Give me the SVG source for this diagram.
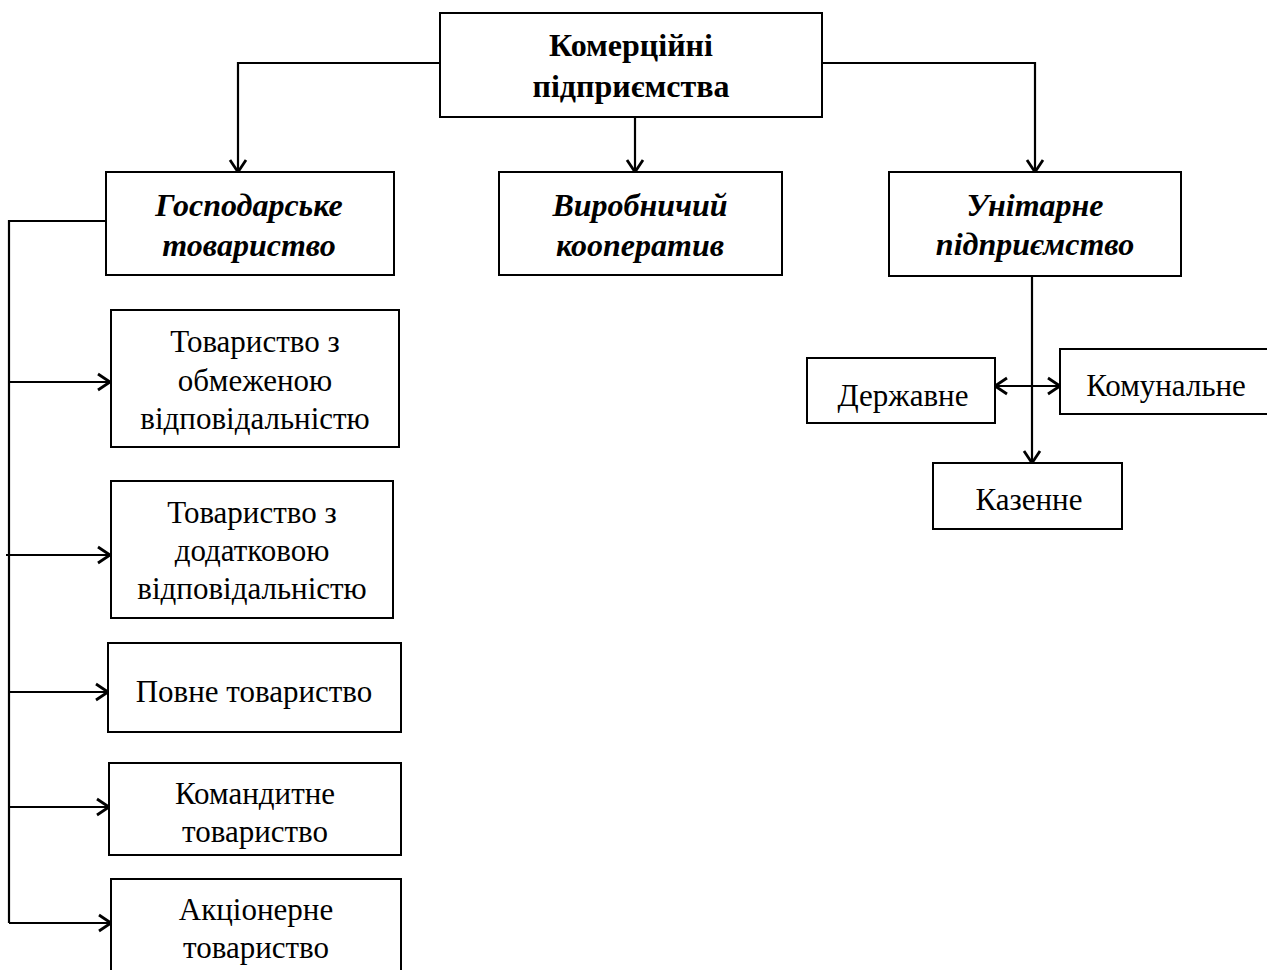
<svg xmlns="http://www.w3.org/2000/svg" width="1267" height="970" viewBox="0 0 1267 970">
<style>
.box{fill:#fff;stroke:#000;stroke-width:2}
.ln{fill:none;stroke:#000;stroke-width:2.2}
.t{font-family:"Liberation Serif","Times New Roman",serif;font-size:31px;fill:#000;text-anchor:middle}
.b{font-weight:bold;font-size:32px}
.bi{font-weight:bold;font-style:italic;font-size:32px}
</style>
<defs>
<marker id="ah" markerUnits="userSpaceOnUse" markerWidth="20" markerHeight="20" refX="13" refY="10" orient="auto-start-reverse" viewBox="0 0 20 20">
<path d="M1,2 L13,10 L1,18" fill="none" stroke="#000" stroke-width="2.8"/>
</marker>
</defs>
<rect width="1267" height="970" fill="#fff"/>
<g id="connectors">
<path class="ln" d="M440,63 H238 V172" marker-end="url(#ah)"/>
<path class="ln" d="M822,63 H1035 V172" marker-end="url(#ah)"/>
<path class="ln" d="M635,117 V172" marker-end="url(#ah)"/>
<path class="ln" d="M1032,276 V463" marker-end="url(#ah)"/>
<path class="ln" d="M995,386 H1060" marker-start="url(#ah)" marker-end="url(#ah)"/>
<path class="ln" d="M106,221 H9 V923"/>
<path class="ln" d="M9,382 H110" marker-end="url(#ah)"/>
<path class="ln" d="M6,555 H110" marker-end="url(#ah)"/>
<path class="ln" d="M9,692 H108" marker-end="url(#ah)"/>
<path class="ln" d="M9,807 H109" marker-end="url(#ah)"/>
<path class="ln" d="M9,923 H111" marker-end="url(#ah)"/>
</g>
<g id="n-komertsiini">
<rect class="box" x="440" y="13" width="382" height="104"/>
<text class="t b" x="631" y="56">Комерційні</text>
<text class="t b" x="631" y="97">підприємства</text>
</g>
<g id="n-hospodarske">
<rect class="box" x="106" y="172" width="288" height="103"/>
<text class="t bi" x="249" y="216">Господарське</text>
<text class="t bi" x="249" y="256">товариство</text>
</g>
<g id="n-vyrobnychyi">
<rect class="box" x="499" y="172" width="283" height="103"/>
<text class="t bi" x="640" y="216">Виробничий</text>
<text class="t bi" x="640" y="256">кооператив</text>
</g>
<g id="n-unitarne">
<rect class="box" x="889" y="172" width="292" height="104"/>
<text class="t bi" x="1035" y="216">Унітарне</text>
<text class="t bi" x="1035" y="255">підприємство</text>
</g>
<g id="n-derzhavne">
<rect class="box" x="807" y="358" width="188" height="65"/>
<text class="t" x="903" y="406">Державне</text>
</g>
<g id="n-komunalne">
<rect class="box" x="1060" y="349" width="212" height="65"/>
<text class="t" x="1166" y="396">Комунальне</text>
</g>
<g id="n-kazenne">
<rect class="box" x="933" y="463" width="189" height="66"/>
<text class="t" x="1029" y="510">Казенне</text>
</g>
<g id="n-tov">
<rect class="box" x="111" y="310" width="288" height="137"/>
<text class="t" x="255" y="352">Товариство з</text>
<text class="t" x="255" y="391">обмеженою</text>
<text class="t" x="255" y="429">відповідальністю</text>
</g>
<g id="n-tdv">
<rect class="box" x="111" y="481" width="282" height="137"/>
<text class="t" x="252" y="523">Товариство з</text>
<text class="t" x="252" y="561">додатковою</text>
<text class="t" x="252" y="599">відповідальністю</text>
</g>
<g id="n-povne">
<rect class="box" x="108" y="643" width="293" height="89"/>
<text class="t" x="254" y="702">Повне товариство</text>
</g>
<g id="n-komandytne">
<rect class="box" x="109" y="763" width="292" height="92"/>
<text class="t" x="255" y="804">Командитне</text>
<text class="t" x="255" y="842">товариство</text>
</g>
<g id="n-aktsionerne">
<rect class="box" x="111" y="879" width="290" height="100"/>
<text class="t" x="256" y="920">Акціонерне</text>
<text class="t" x="256" y="958">товариство</text>
</g>
</svg>
